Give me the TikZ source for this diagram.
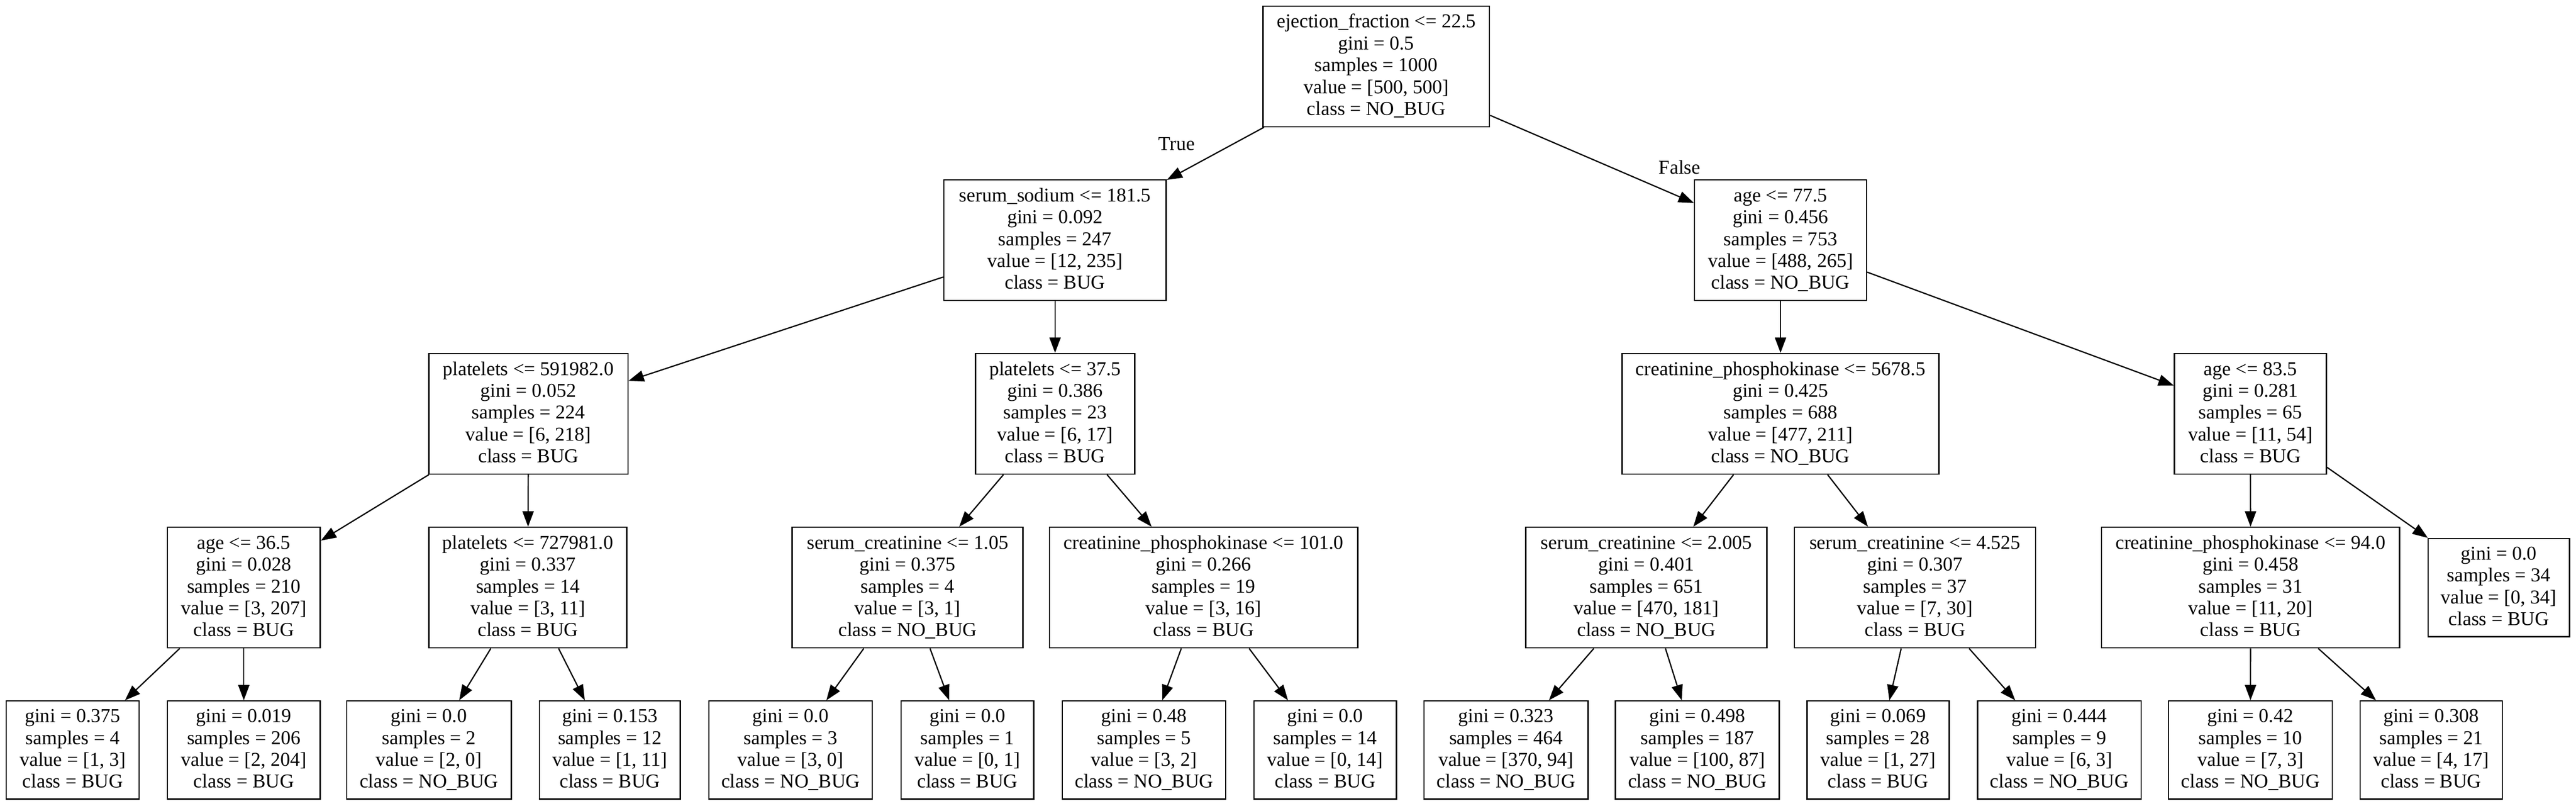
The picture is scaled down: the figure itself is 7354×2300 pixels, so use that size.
\documentclass[tikz,border=0pt]{standalone}
\usepackage{fontspec}
\setmainfont{Liberation Serif}
\usetikzlibrary{arrows.meta}
\newcommand\gvA{\rule{0pt}{10.3pt}}
\newcommand\gvB{\rule[-3pt]{0pt}{3pt}}
\tikzset{
  tn/.style={draw, line width=0.9pt, rectangle, align=center, inner xsep=1pt, inner ysep=0pt,
    minimum height=86pt, font=\fontsize{14}{15.6}\selectfont},
  lf/.style={tn, minimum height=70pt},
  conn/.style={line width=0.9pt, -{Triangle[length=11pt,width=8pt]}},
  elab/.style={anchor=base, inner sep=0pt, font=\fontsize{14}{15.6}\selectfont}
}
\begin{document}
\begin{tikzpicture}[x=0.25pt,y=-0.25pt]
\useasboundingbox (0,0) rectangle (7354,2300);
% level 0
\node[tn, minimum width=161.7pt] (n0) at (3929,189.5) {\gvA ejection\_fraction <= 22.5\\gini = 0.5\\samples = 1000\\value = [500, 500]\\class = NO\_BUG\gvB};
% level 1
\node[tn, minimum width=158.7pt] (n1) at (3012,685.5) {\gvA serum\_sodium <= 181.5\\gini = 0.092\\samples = 247\\value = [12, 235]\\class = BUG\gvB};
\node[tn, minimum width=122.7pt] (n16) at (5083,685.5) {\gvA age <= 77.5\\gini = 0.456\\samples = 753\\value = [488, 265]\\class = NO\_BUG\gvB};
% level 2
\node[tn, minimum width=142pt] (n2) at (1508.5,1181) {\gvA platelets <= 591982.0\\gini = 0.052\\samples = 224\\value = [6, 218]\\class = BUG\gvB};
\node[tn, minimum width=113.7pt] (n9) at (3012,1181) {\gvA platelets <= 37.5\\gini = 0.386\\samples = 23\\value = [6, 17]\\class = BUG\gvB};
\node[tn, minimum width=226.2pt] (n17) at (5083,1181) {\gvA creatinine\_phosphokinase <= 5678.5\\gini = 0.425\\samples = 688\\value = [477, 211]\\class = NO\_BUG\gvB};
\node[tn, minimum width=108.5pt] (n24) at (6424.5,1181) {\gvA age <= 83.5\\gini = 0.281\\samples = 65\\value = [11, 54]\\class = BUG\gvB};
% level 3
\node[tn, minimum width=109.2pt] (n3) at (696,1677) {\gvA age <= 36.5\\gini = 0.028\\samples = 210\\value = [3, 207]\\class = BUG\gvB};
\node[tn, minimum width=141.2pt] (n6) at (1507,1677) {\gvA platelets <= 727981.0\\gini = 0.337\\samples = 14\\value = [3, 11]\\class = BUG\gvB};
\node[tn, minimum width=164.7pt] (n10) at (2591,1677) {\gvA serum\_creatinine <= 1.05\\gini = 0.375\\samples = 4\\value = [3, 1]\\class = NO\_BUG\gvB};
\node[tn, minimum width=220pt] (n13) at (3436,1677) {\gvA creatinine\_phosphokinase <= 101.0\\gini = 0.266\\samples = 19\\value = [3, 16]\\class = BUG\gvB};
\node[tn, minimum width=172pt] (n18) at (4700,1677) {\gvA serum\_creatinine <= 2.005\\gini = 0.401\\samples = 651\\value = [470, 181]\\class = NO\_BUG\gvB};
\node[tn, minimum width=172.2pt] (n21) at (5467,1677) {\gvA serum\_creatinine <= 4.525\\gini = 0.307\\samples = 37\\value = [7, 30]\\class = BUG\gvB};
\node[tn, minimum width=212.7pt] (n25) at (6425,1677) {\gvA creatinine\_phosphokinase <= 94.0\\gini = 0.458\\samples = 31\\value = [11, 20]\\class = BUG\gvB};
\node[lf, minimum width=101pt] (n30) at (7133.5,1677) {\gvA gini = 0.0\\samples = 34\\value = [0, 34]\\class = BUG\gvB};
% level 4
\node[lf, minimum width=95pt] (n4) at (207.5,2140.5) {\gvA gini = 0.375\\samples = 4\\value = [1, 3]\\class = BUG\gvB};
\node[lf, minimum width=109.2pt] (n5) at (696,2140.5) {\gvA gini = 0.019\\samples = 206\\value = [2, 204]\\class = BUG\gvB};
\node[lf, minimum width=117.5pt] (n7) at (1224.5,2140.5) {\gvA gini = 0.0\\samples = 2\\value = [2, 0]\\class = NO\_BUG\gvB};
\node[lf, minimum width=100.7pt] (n8) at (1741,2140.5) {\gvA gini = 0.153\\samples = 12\\value = [1, 11]\\class = BUG\gvB};
\node[lf, minimum width=116.7pt] (n11) at (2257,2140.5) {\gvA gini = 0.0\\samples = 3\\value = [3, 0]\\class = NO\_BUG\gvB};
\node[lf, minimum width=94.7pt] (n12) at (2762,2140.5) {\gvA gini = 0.0\\samples = 1\\value = [0, 1]\\class = BUG\gvB};
\node[lf, minimum width=116.5pt] (n14) at (3266,2140.5) {\gvA gini = 0.48\\samples = 5\\value = [3, 2]\\class = NO\_BUG\gvB};
\node[lf, minimum width=101.7pt] (n15) at (3783,2140.5) {\gvA gini = 0.0\\samples = 14\\value = [0, 14]\\class = BUG\gvB};
\node[lf, minimum width=117pt] (n19) at (4299.5,2140.5) {\gvA gini = 0.323\\samples = 464\\value = [370, 94]\\class = NO\_BUG\gvB};
\node[lf, minimum width=117pt] (n20) at (4845.5,2140.5) {\gvA gini = 0.498\\samples = 187\\value = [100, 87]\\class = NO\_BUG\gvB};
\node[lf, minimum width=101.5pt] (n22) at (5361.5,2140.5) {\gvA gini = 0.069\\samples = 28\\value = [1, 27]\\class = BUG\gvB};
\node[lf, minimum width=116.7pt] (n23) at (5879,2140.5) {\gvA gini = 0.444\\samples = 9\\value = [6, 3]\\class = NO\_BUG\gvB};
\node[lf, minimum width=117pt] (n26) at (6424.5,2140.5) {\gvA gini = 0.42\\samples = 10\\value = [7, 3]\\class = NO\_BUG\gvB};
\node[lf, minimum width=101.5pt] (n27) at (6940.5,2140.5) {\gvA gini = 0.308\\samples = 21\\value = [4, 17]\\class = BUG\gvB};
% edge labels
\node[elab] (lblT) at (3359.5,429) {True};
\node[elab] (lblF) at (4795,496.5) {False};
% connectors
\draw[conn] (n0) -- (n1);
\draw[conn] (n0) -- (n16);
\draw[conn] (n1) -- (n2);
\draw[conn] (n1) -- (n9);
\draw[conn] (n2) -- (n3);
\draw[conn] (n2) -- (n6);
\draw[conn] (n3) -- (n4);
\draw[conn] (n3) -- (n5);
\draw[conn] (n6) -- (n7);
\draw[conn] (n6) -- (n8);
\draw[conn] (n9) -- (n10);
\draw[conn] (n9) -- (n13);
\draw[conn] (n10) -- (n11);
\draw[conn] (n10) -- (n12);
\draw[conn] (n13) -- (n14);
\draw[conn] (n13) -- (n15);
\draw[conn] (n16) -- (n17);
\draw[conn] (n16) -- (n24);
\draw[conn] (n17) -- (n18);
\draw[conn] (n17) -- (n21);
\draw[conn] (n18) -- (n19);
\draw[conn] (n18) -- (n20);
\draw[conn] (n21) -- (n22);
\draw[conn] (n21) -- (n23);
\draw[conn] (n24) -- (n25);
\draw[conn] (n24) -- (n30);
\draw[conn] (n25) -- (n26);
\draw[conn] (n25) -- (n27);
\end{tikzpicture}
\end{document}
